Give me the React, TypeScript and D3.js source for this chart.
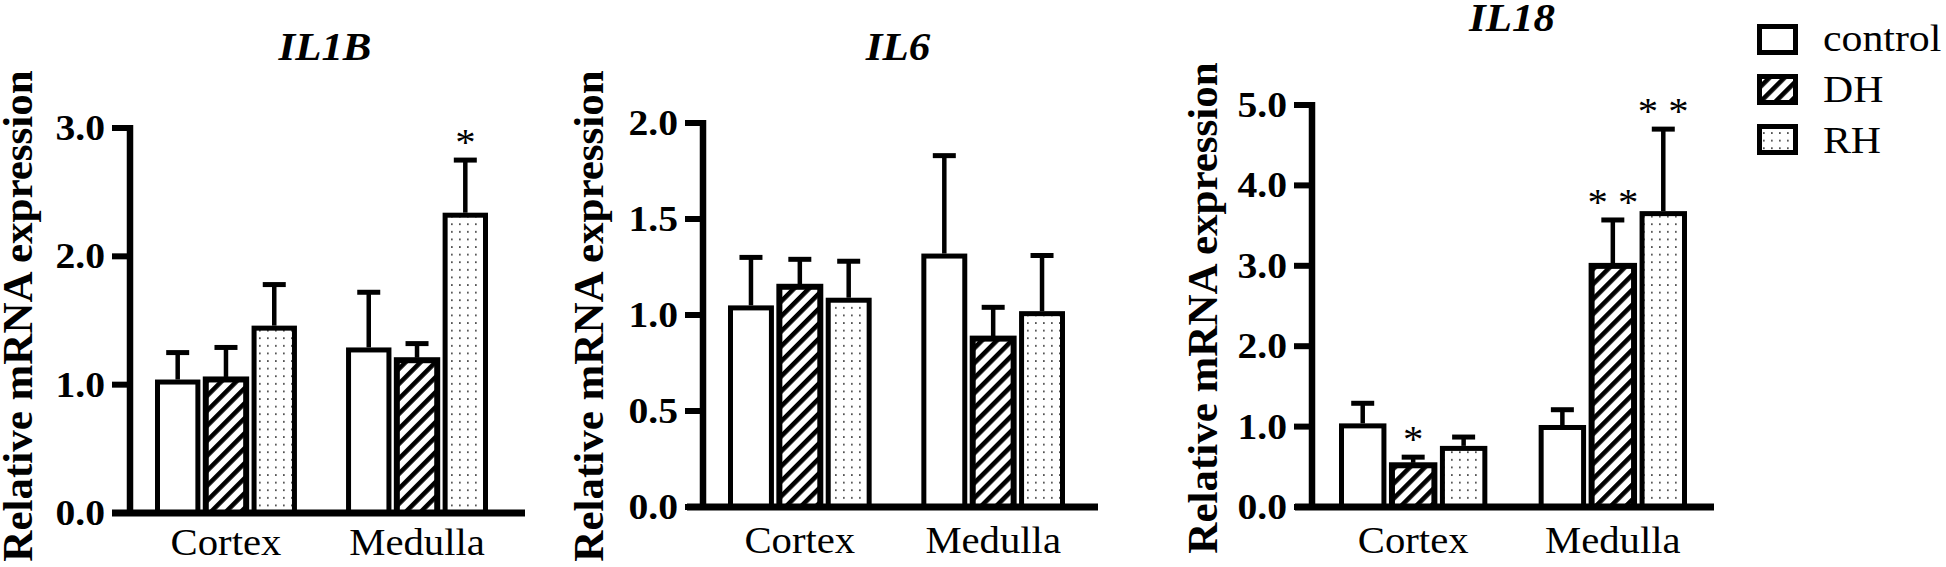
import React from "react";
import * as d3 from "d3";

const categories = ["Cortex", "Medulla"];
const groups = ["control", "DH", "RH"];

const il1bMeans = [[1.04, 1.06, 1.46], [1.29, 1.21, 2.34]];
const il1bErrors = [[0.21, 0.23, 0.32], [0.43, 0.11, 0.41]];
const il1bStars = [["", "", ""], ["", "", "*"]];
const il1bTicks = [0, 1, 2, 3];

const il6Means = [[1.05, 1.16, 1.09], [1.32, 0.89, 1.02]];
const il6Errors = [[0.25, 0.13, 0.19], [0.51, 0.15, 0.29]];
const il6Stars = [["", "", ""], ["", "", ""]];
const il6Ticks = [0, 0.5, 1, 1.5, 2];

const il18Means = [[1.04, 0.55, 0.76], [1.02, 3.03, 3.68]];
const il18Errors = [[0.25, 0.07, 0.11], [0.19, 0.54, 1.02]];
const il18Stars = [["", "*", ""], ["", "**", "**"]];
const il18Ticks = [0, 1, 2, 3, 4, 5];

const FONT = "Liberation Serif, serif";
const SX = 1.1; // the figure is a bit wider than tall
const fills = ["#ffffff", "url(#hatch)", "url(#dots)"];

// a text that is stretched sideways like in the picture
function Txt({ x, y, anchor = "middle", size, weight = "normal", italic = false, children }) {
  return (
    <text
      transform={`translate(${x},${y}) scale(${SX},1)`}
      textAnchor={anchor}
      fontFamily={FONT}
      fontSize={size}
      fontWeight={weight}
      fontStyle={italic ? "italic" : "normal"}
      fill="#000"
    >
      {children}
    </text>
  );
}

function Panel({ title, means, errors, stars, ticks, layout }) {
  const yMax = ticks[ticks.length - 1];
  const y = d3.scaleLinear().domain([0, yMax]).range([layout.yBase, layout.yTop]);
  const x0 = d3
    .scaleBand()
    .domain(categories)
    .range([layout.barsStart, layout.barsEnd])
    .paddingInner(0.257);
  const x1 = d3.scaleBand().domain(groups).range([0, x0.bandwidth()]).paddingInner(0.06);
  const fmt = d3.format(".1f");
  const sw = 5;

  return (
    <g>
      <Txt x={layout.titleX} y={layout.titleY} size={39} weight="bold" italic>
        {title}
      </Txt>
      <text
        transform={`translate(${layout.labelX},${layout.labelY}) rotate(-90)`}
        textAnchor="middle"
        fontFamily={FONT}
        fontSize={43}
        fontWeight="bold"
      >
        Relative mRNA expression
      </text>

      {categories.map((c, ci) =>
        groups.map((g, gi) => {
          const bx = x0(c) + x1(g);
          const bw = x1.bandwidth();
          const v = means[ci][gi];
          const e = errors[ci][gi];
          const cx = bx + bw / 2;
          const top = y(v);
          return (
            <g key={c + g}>
              <line x1={cx} x2={cx} y1={top} y2={y(v + e)} stroke="#000" strokeWidth={4.5} />
              <line x1={cx - 11.5} x2={cx + 11.5} y1={y(v + e)} y2={y(v + e)} stroke="#000" strokeWidth={5} />
              <rect
                x={bx + sw / 2}
                y={top + sw / 2}
                width={bw - sw}
                height={y(0) - top - sw / 2}
                fill={fills[gi]}
                stroke="#000"
                strokeWidth={gi === 1 ? 6 : sw}
              />
              {stars[ci][gi] && (
                <Txt x={cx} y={y(v + e) - 5} size={37}>
                  {stars[ci][gi].split("").join(" ")}
                </Txt>
              )}
            </g>
          );
        })
      )}

      {/* axes */}
      <line x1={layout.axisX} x2={layout.axisX} y1={y(yMax) - 3} y2={y(0)} stroke="#000" strokeWidth={6.5} />
      <line x1={layout.xStart} x2={layout.xEnd} y1={y(0)} y2={y(0)} stroke="#000" strokeWidth={7} />
      {ticks.map((t) => (
        <g key={t}>
          <line x1={layout.axisX - 18} x2={layout.axisX} y1={y(t)} y2={y(t)} stroke="#000" strokeWidth={6} />
          <Txt x={layout.axisX - 25} y={y(t) + 12} anchor="end" size={36} weight="bold">
            {fmt(t)}
          </Txt>
        </g>
      ))}
      {categories.map((c) => (
        <Txt key={c} x={x0(c) + x0.bandwidth() / 2} y={layout.catY} size={37}>
          {c}
        </Txt>
      ))}
    </g>
  );
}

function Legend({ x, y }) {
  return (
    <g>
      {groups.map((g, i) => (
        <g key={g}>
          <rect x={x + 2.5} y={y + i * 50 + 2.5} width={36} height={26} fill={fills[i]} stroke="#000" strokeWidth={5} />
          <Txt x={x + 66} y={y + i * 51 + 27} anchor="start" size={38}>
            {g}
          </Txt>
        </g>
      ))}
    </g>
  );
}

export default function App() {
  return (
    <svg
      width={1946}
      height={567}
      style={{ position: "absolute", left: 0, top: 0, background: "#fff" }}
    >
      <defs>
        <pattern id="hatch" patternUnits="userSpaceOnUse" width="10.6" height="10.6" patternTransform="rotate(45)">
          <rect width="10.6" height="10.6" fill="#fff" />
          <line x1="2.3" y1="0" x2="2.3" y2="10.6" stroke="#000" strokeWidth="4.6" />
        </pattern>
        <pattern id="dots" patternUnits="userSpaceOnUse" width="8" height="7.6">
          <rect width="8" height="7.6" fill="#fff" />
          <rect x="3" y="3" width="1.7" height="1.7" fill="#444" />
        </pattern>
      </defs>
      <Panel
        title="IL1B"
        means={il1bMeans}
        errors={il1bErrors}
        stars={il1bStars}
        ticks={il1bTicks}
        layout={{ axisX: 130, xStart: 112, xEnd: 525, barsStart: 155, barsEnd: 488, yBase: 513, yTop: 128, titleX: 325, titleY: 60, labelX: 32, labelY: 316, catY: 555 }}
      />
      <Panel
        title="IL6"
        means={il6Means}
        errors={il6Errors}
        stars={il6Stars}
        ticks={il6Ticks}
        layout={{ axisX: 703, xStart: 687, xEnd: 1098, barsStart: 728, barsEnd: 1065, yBase: 507, yTop: 123, titleX: 898, titleY: 60, labelX: 603, labelY: 316, catY: 553 }}
      />
      <Panel
        title="IL18"
        means={il18Means}
        errors={il18Errors}
        stars={il18Stars}
        ticks={il18Ticks}
        layout={{ axisX: 1312, xStart: 1295, xEnd: 1714, barsStart: 1339, barsEnd: 1687, yBase: 507, yTop: 105, titleX: 1512, titleY: 31, labelX: 1217, labelY: 308, catY: 553 }}
      />
      <Legend x={1757} y={24} />
    </svg>
  );
}
